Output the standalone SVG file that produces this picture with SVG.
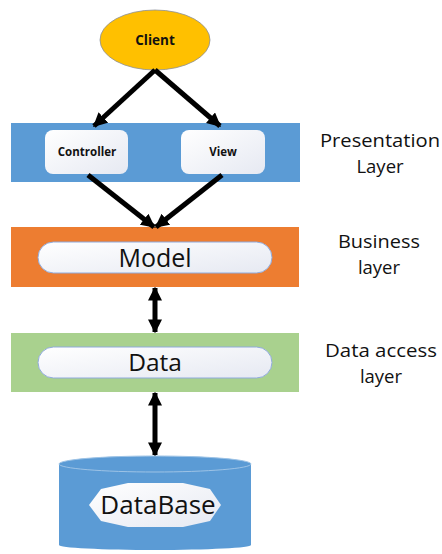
<svg xmlns="http://www.w3.org/2000/svg" width="442" height="554" viewBox="0 0 442 554">
<style>
  .lbl{font-family:"Open Sans","Liberation Sans",sans-serif;fill:#111;text-anchor:middle}
  .b{font-weight:bold}
  .side{font-size:18.5px}
  .pill{fill:url(#wg);stroke:#8faadc;stroke-width:1}
  .conn{stroke:#000;stroke-width:5;fill:none}
</style>
<defs>
  <linearGradient id="wg" x1="0" y1="0" x2="1" y2="1">
    <stop offset="0" stop-color="#ffffff"/>
    <stop offset="1" stop-color="#e6e9f2"/>
  </linearGradient>
  <marker id="ah" viewBox="0 0 10 10" refX="9" refY="5" markerWidth="14" markerHeight="14" markerUnits="userSpaceOnUse" orient="auto-start-reverse">
    <path d="M0,0 L10,5 L0,10 Z" fill="#000"/>
  </marker>
</defs>
<rect width="442" height="554" fill="#fff"/>

<g id="presentation-layer">
  <rect x="11" y="123" width="289" height="59" fill="#5b9bd5"/>
</g>
<g id="controller">
  <rect x="45" y="130" width="83" height="44" rx="8" fill="url(#wg)"/>
  <text class="lbl b" x="87" y="156" font-size="11.5">Controller</text>
</g>
<g id="view">
  <rect x="181" y="130" width="84" height="44" rx="8" fill="url(#wg)"/>
  <text class="lbl b" x="223" y="156" font-size="11.5">View</text>
</g>
<g id="client">
  <ellipse cx="155" cy="40" rx="55" ry="30" fill="#ffc000" stroke="#8a8f9a" stroke-width="0.8"/>
  <text class="lbl b" x="155" y="45" font-size="13.5">Client</text>
</g>
<g id="business-layer">
  <rect x="11" y="227" width="288" height="60" fill="#ed7d31"/>
</g>
<g id="model">
  <rect class="pill" x="38" y="242" width="234" height="31" rx="15.5"/>
  <text class="lbl" x="155" y="267" font-size="25">Model</text>
</g>
<g id="data-access-layer">
  <rect x="11" y="333" width="288" height="59" fill="#a9d18e"/>
</g>
<g id="data">
  <rect class="pill" x="38" y="347" width="234" height="31" rx="15.5"/>
  <text class="lbl" x="155" y="371" font-size="24.5">Data</text>
</g>
<g id="database">
  <path d="M59,464 A96,8 0 0,1 251,464 L251,545 A96,5 0 0,1 59,545 Z" fill="#5b9bd5"/>
  <ellipse cx="155" cy="464" rx="96" ry="8" fill="none" stroke="#9dc3e6" stroke-width="1"/>
  <polygon points="89,505 101,489 128,483 183,483 210,489 221,505 210,521 183,527 128,527 101,521" fill="url(#wg)"/>
  <text class="lbl" x="158" y="514" font-size="26">DataBase</text>
</g>
<g id="layer-labels">
  <text class="lbl side" x="380" y="147" textLength="120" lengthAdjust="spacingAndGlyphs">Presentation</text>
  <text class="lbl side" x="380" y="172.5">Layer</text>
  <text class="lbl side" x="379" y="248" textLength="82" lengthAdjust="spacingAndGlyphs">Business</text>
  <text class="lbl side" x="379" y="273.5">layer</text>
  <text class="lbl side" x="381" y="357" textLength="112" lengthAdjust="spacingAndGlyphs">Data access</text>
  <text class="lbl side" x="381" y="382.5">layer</text>
</g>
<g id="connectors">
  <line class="conn" x1="155" y1="70" x2="94" y2="126" marker-end="url(#ah)"/>
  <line class="conn" x1="155" y1="70" x2="220" y2="126" marker-end="url(#ah)"/>
  <line class="conn" x1="88" y1="175" x2="154" y2="227" marker-end="url(#ah)"/>
  <line class="conn" x1="222" y1="175" x2="156" y2="227" marker-end="url(#ah)"/>
  <line class="conn" x1="155" y1="288" x2="155" y2="332" marker-start="url(#ah)" marker-end="url(#ah)" stroke-width="4"/>
  <line class="conn" x1="155" y1="393" x2="155" y2="455" marker-start="url(#ah)" marker-end="url(#ah)" stroke-width="4"/>
</g>
</svg>
